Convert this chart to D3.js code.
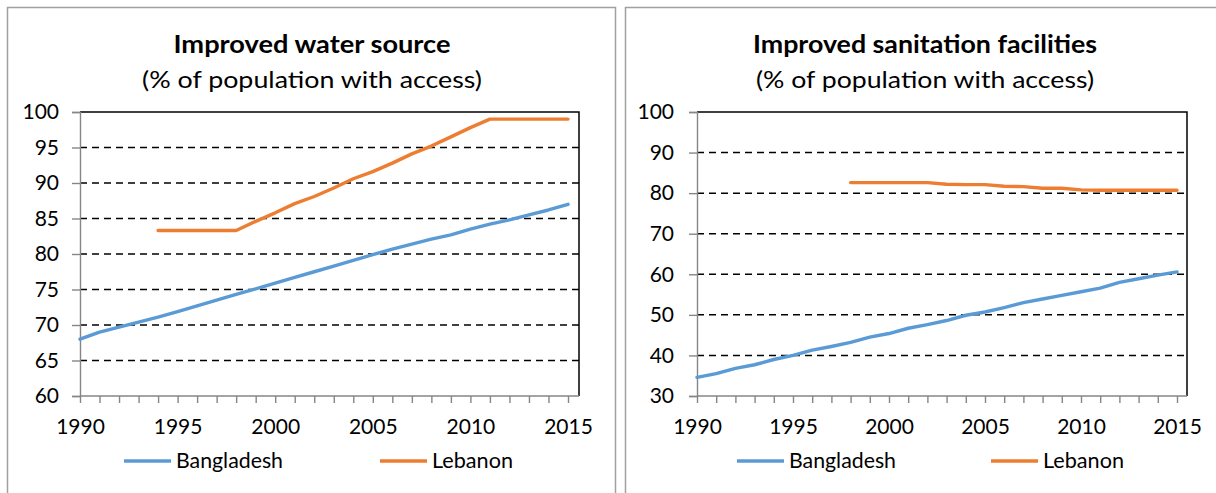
<!DOCTYPE html>
<html><head><meta charset="utf-8">
<script src="https://cdn.jsdelivr.net/npm/d3@7"></script>
<style>body{margin:0;background:#fff;}svg{display:block;}</style>
</head><body>
<svg id="chart" width="1216" height="493"></svg>
<script>
// ---- data ----
const waterYearsBangladesh = d3.range(1990, 2016);
const waterBangladesh = [68.0,69.0,69.7,70.4,71.1,71.9,72.7,73.5,74.3,75.1,75.9,76.7,77.5,78.3,79.1,79.9,80.7,81.4,82.1,82.7,83.5,84.2,84.8,85.5,86.2,87.0];
const waterYearsLebanon = d3.range(1994, 2016);
const waterLebanon = [83.3,83.3,83.3,83.3,83.3,84.6,85.8,87.1,88.1,89.3,90.6,91.6,92.8,94.1,95.2,96.5,97.8,99.0,99.0,99.0,99.0,99.0];
const sanYearsBangladesh = d3.range(1990, 2016);
const sanBangladesh = [34.6,35.5,36.8,37.7,39.0,40.0,41.3,42.2,43.2,44.5,45.4,46.7,47.6,48.6,49.9,50.7,51.8,53.0,53.9,54.8,55.7,56.6,58.0,58.9,59.8,60.6];
const sanYearsLebanon = d3.range(1998, 2016);
const sanLebanon = [82.6,82.6,82.6,82.6,82.6,82.2,82.1,82.1,81.7,81.6,81.2,81.2,80.8,80.7,80.7,80.7,80.7,80.7];
const xTicks = [1990,1995,2000,2005,2010,2015];
const waterYTicks = [60,65,70,75,80,85,90,95,100];
const sanYTicks = [30,40,50,60,70,80,90,100];
const seriesNames = ["Bangladesh","Lebanon"];
const colors = {"Bangladesh":"#5B9BD5","Lebanon":"#ED7D31"};
const titles = ["Improved water source","Improved sanitation facilities"];
const subtitle = "(% of population with access)";

const FONT = "Lato, 'Liberation Sans', Arial, sans-serif";
const svg = d3.select("#chart");

function drawChart(cfg){
  const g = svg.append("g");
  // outer box
  g.append("rect").attr("x",cfg.bx).attr("y",7.5).attr("width",cfg.bw).attr("height",600)
    .attr("fill","#fff").attr("stroke","#a0a0a0").attr("stroke-width",1.5);
  const x = d3.scaleLinear().domain([1990,2015]).range([cfg.x0, cfg.x15]);
  const y = d3.scaleLinear().domain(cfg.ydom).range([396,112]);
  // gridlines
  const grid = cfg.yticks.filter(v => v>cfg.ydom[0] && v<cfg.ydom[1]);
  g.selectAll(".grid").data(grid).join("line")
    .attr("x1",cfg.x0).attr("x2",cfg.xr).attr("y1",d=>y(d)).attr("y2",d=>y(d))
    .attr("stroke","#000").attr("stroke-width",1.5).attr("stroke-dasharray","7,5");
  // plot border top & right
  g.append("path").attr("d",`M${cfg.x0},${y(cfg.ydom[1])}H${cfg.xr}V${y(cfg.ydom[0])}`)
    .attr("fill","none").attr("stroke","#000").attr("stroke-width",1.5);
  // y axis
  const yAxis = d3.axisLeft(y).tickValues(cfg.yticks).tickSize(8).tickPadding(13);
  const ya = g.append("g").attr("transform",`translate(${cfg.x0},0)`).call(yAxis);
  ya.select(".domain").attr("stroke","#868686").attr("stroke-width",1.4);
  ya.selectAll(".tick line").attr("stroke","#868686").attr("stroke-width",1.4);
  ya.selectAll(".tick text").attr("font-family",FONT).attr("font-size",21).attr("fill","#000").attr("dx",cfg.ydx);
  // x axis
  const xAxis = d3.axisBottom(x).tickValues(d3.range(1990,2016)).tickSize(7).tickPadding(16)
    .tickFormat(d => xTicks.includes(d) ? String(d) : "");
  const xa = g.append("g").attr("transform",`translate(0,396)`).call(xAxis);
  xa.select(".domain").attr("d",`M${cfg.x0},0H${cfg.xr}`).attr("stroke","#868686").attr("stroke-width",1.4);
  xa.selectAll(".tick line").attr("stroke","#868686").attr("stroke-width",1.4);
  xa.selectAll(".tick text").attr("font-family",FONT).attr("font-size",21).attr("fill","#000");
  // lines
  const line = d3.line().x(d=>x(d[0])).y(d=>y(d[1]));
  cfg.series.forEach(s => {
    g.append("path").datum(s.years.map((yr,i)=>[yr,s.values[i]]))
      .attr("d",line).attr("fill","none").attr("stroke",colors[s.name])
      .attr("stroke-width",3.4).attr("stroke-linejoin","round").attr("stroke-linecap","round");
  });
  // titles
  g.append("text").attr("x",cfg.cx).attr("y",53).attr("text-anchor","middle")
    .attr("font-family",FONT).attr("font-weight","bold").attr("font-size",24)
    .attr("textLength",cfg.tw).attr("lengthAdjust","spacingAndGlyphs").text(cfg.title);
  g.append("text").attr("x",cfg.cx).attr("y",88).attr("text-anchor","middle")
    .attr("font-family",FONT).attr("font-size",23)
    .attr("textLength",cfg.sw).attr("lengthAdjust","spacingAndGlyphs").text(subtitle);
  // legend
  cfg.legend.forEach((L,i) => {
    g.append("line").attr("x1",L.lx).attr("x2",L.lx+47).attr("y1",461).attr("y2",461)
      .attr("stroke",colors[seriesNames[i]]).attr("stroke-width",3.4);
    g.append("text").attr("x",L.lx+52).attr("y",468).attr("font-family",FONT).attr("font-size",21)
      .attr("textLength",L.w).attr("lengthAdjust","spacingAndGlyphs").text(seriesNames[i]);
  });
}

drawChart({bx:7.5,bw:608,x0:80,x15:568,xr:579,ydom:[60,100],yticks:waterYTicks,ydx:0,
  cx:312,tw:277,sw:340,title:titles[0],
  series:[{name:"Bangladesh",years:waterYearsBangladesh,values:waterBangladesh},
          {name:"Lebanon",years:waterYearsLebanon,values:waterLebanon}],
  legend:[{lx:124,w:107},{lx:380,w:81}]});
drawChart({bx:625.5,bw:608,x0:697,x15:1177,xr:1187,ydom:[30,100],yticks:sanYTicks,ydx:-2,
  cx:925,tw:344,sw:338,title:titles[1],
  series:[{name:"Bangladesh",years:sanYearsBangladesh,values:sanBangladesh},
          {name:"Lebanon",years:sanYearsLebanon,values:sanLebanon}],
  legend:[{lx:737,w:107},{lx:991,w:81}]});
</script>
</body></html>
